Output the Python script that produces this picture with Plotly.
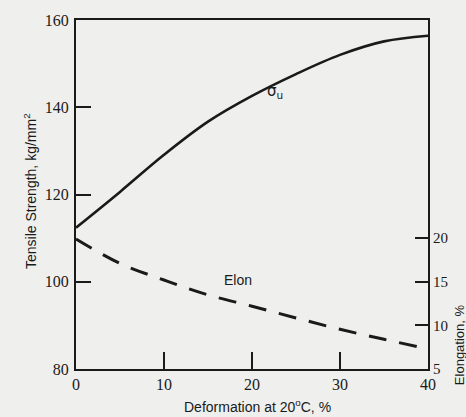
import plotly.graph_objects as go

deformation = [0, 5, 10, 15, 20, 25, 30, 35, 40]
tensile_strength = [112.4, 120.6, 129.1, 136.7, 142.6, 147.6, 152.0, 155.1, 156.4]
elongation = [19.9, 17.1, 15.2, 13.5, 12.2, 10.85, 9.55, 8.4, 7.3]

x_ticks = [0, 10, 20, 30, 40]
left_ticks = [80, 100, 120, 140, 160]
right_ticks = [5, 10, 15, 20]

ink = "#1a1a1a"
tick_font = dict(family="Liberation Serif", size=16, color=ink)

fig = go.Figure()
fig.add_trace(go.Scatter(x=deformation, y=tensile_strength, mode="lines",
                         line=dict(color=ink, width=2.6, shape="spline", smoothing=1.0),
                         showlegend=False))
fig.add_trace(go.Scatter(x=deformation, y=elongation, mode="lines", yaxis="y2",
                         line=dict(color=ink, width=3, shape="spline", dash="18px,13px"),
                         showlegend=False))

fig.update_layout(
    width=466, height=417,
    margin=dict(l=76, r=38, t=18, b=48),
    paper_bgcolor="#efefed", plot_bgcolor="#efefed",
    xaxis=dict(range=[0, 40], tickvals=x_ticks, ticks="inside", ticklen=17,
               tickwidth=1.5, tickcolor=ink, showline=True, linecolor=ink,
               linewidth=2, mirror=True, showgrid=False, zeroline=False,
               tickfont=tick_font),
    yaxis=dict(range=[80, 160], tickvals=left_ticks, ticks="inside", ticklen=15,
               tickwidth=1.5, tickcolor=ink, showline=True, linecolor=ink,
               linewidth=2, mirror=True, showgrid=False, zeroline=False,
               tickfont=tick_font, ticklabelstandoff=2),
    yaxis2=dict(range=[5, 45], tickvals=right_ticks, ticks="inside", ticklen=13,
                tickwidth=1.5, tickcolor=ink, overlaying="y", side="right",
                showline=False, showgrid=False, zeroline=False,
                tickfont=dict(family="Liberation Serif", size=15, color=ink),
                ticklabelstandoff=4),
)

fig.add_annotation(text="σ<sub>u</sub>", x=22.6, y=143.5, xref="x", yref="y",
                   showarrow=False, font=dict(family="DejaVu Sans", size=15, color=ink),
                   xanchor="center", yanchor="middle")
fig.add_annotation(text="Elon", x=18.4, y=100.3, xref="x", yref="y",
                   showarrow=False, font=dict(family="Liberation Sans", size=14, color=ink),
                   xanchor="center", yanchor="middle")
fig.add_annotation(text="Deformation at 20<sup>o</sup>C, %", x=(257 - 76) / 352,
                   y=(369 - 406) / 351, xref="paper", yref="paper", showarrow=False,
                   xanchor="center", yanchor="middle",
                   font=dict(family="Liberation Sans", size=14, color=ink))
fig.add_annotation(text="Tensile Strength, kg/mm<sup>2</sup>", x=(30 - 76) / 352,
                   y=(369 - 190) / 351, xref="paper", yref="paper", showarrow=False,
                   textangle=-90, xanchor="center", yanchor="middle",
                   font=dict(family="Liberation Sans", size=14, color=ink))
fig.add_annotation(text="Elongation, %", x=(459 - 76) / 352,
                   y=(369 - 345) / 351, xref="paper", yref="paper", showarrow=False,
                   textangle=-90, xanchor="center", yanchor="middle",
                   font=dict(family="Liberation Sans", size=13, color=ink))

fig.write_html("out.html")
